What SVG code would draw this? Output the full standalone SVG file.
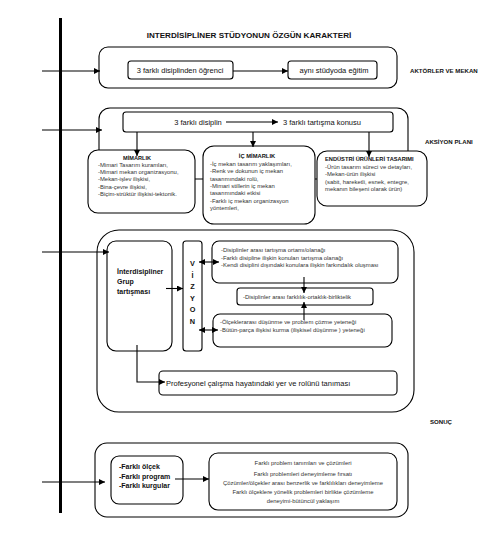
<svg xmlns="http://www.w3.org/2000/svg" width="500" height="541" viewBox="0 0 500 541">
<defs>
<marker id="ah" markerUnits="userSpaceOnUse" markerWidth="6" markerHeight="6" viewBox="0 0 6 6" refX="6" refY="3" orient="auto-start-reverse">
<path d="M0,0 L6,3 L0,6 Z" fill="#000"/>
</marker>
</defs>
<style>
.box{fill:#fff;stroke:#000;stroke-width:1.1}
.obox{fill:none;stroke:#000;stroke-width:1.1}
.ln{fill:none;stroke:#000;stroke-width:1.1}
.t{font-family:"Liberation Sans",Arial,sans-serif;fill:#111}
.b{font-weight:bold}
.s{font-size:5.9px;fill:#333}
.m{font-size:7.5px}
.h{font-size:6.1px;font-weight:bold}
.c{text-anchor:middle}
</style>
<rect width="500" height="541" fill="#fff"/>
<line x1="60.5" y1="18" x2="60.5" y2="513" stroke="#000" stroke-width="3"/>
<text class="t b c" x="249" y="38" font-size="8.1">INTERDİSİPLİNER STÜDYONUN ÖZGÜN KARAKTERİ</text>

<g id="section1">
<rect class="obox" x="99" y="47" width="298" height="41" rx="9"/>
<text class="t h" x="410" y="73">AKTÖRLER VE MEKAN</text>
</g>
<g id="n-ogrenci">
<rect class="box" x="128" y="61" width="105" height="18" rx="3"/>
<text class="t m c" x="180" y="73">3 farklı disiplinden öğrenci</text>
</g>
<g id="n-studyo">
<rect class="box" x="288" y="61" width="89" height="18" rx="3"/>
<text class="t m c" x="334" y="73">aynı stüdyoda eğitim</text>
</g>

<g id="section2">
<rect class="obox" x="99" y="108" width="309" height="71" rx="11"/>
<text class="t h" x="425" y="144" font-size="5.9">AKSİYON PLANI</text>
</g>
<g id="n-disiplin">
<rect class="box" x="123" y="112" width="270" height="20" rx="3"/>
<text class="t m c" x="198" y="124.5">3 farklı disiplin</text>
<text class="t m c" x="322" y="124.5">3 farklı tartışma konusu</text>
</g>
<g id="n-mimarlik">
<rect class="box" x="88" y="150" width="107" height="63" rx="10"/>
<text class="t b c" x="137" y="160" font-size="5.6">MİMARLIK</text>
<text class="t s" x="98" y="167">-Mimari Tasarım kuramları,</text>
<text class="t s" x="98" y="174.2">-Mimari mekan  organizasyonu,</text>
<text class="t s" x="98" y="181.4"> -Mekan-işlev ilişkisi,</text>
<text class="t s" x="98" y="188.6">-Bina-çevre ilişkisi,</text>
<text class="t s" x="98" y="195.8">-Biçim-strüktür ilişkisi-tektonik.</text>
</g>
<g id="n-icmimarlik">
<rect class="box" x="203" y="146" width="112" height="78" rx="11"/>
<text class="t b c" x="257" y="158" font-size="5.8">İÇ MİMARLIK</text>
<text class="t s" x="210" y="166">-İç mekan tasarım yaklaşımları,</text>
<text class="t s" x="210" y="173.3">-Renk ve dokunun iç mekan</text>
<text class="t s" x="210" y="180.6">tasarımındaki rolü,</text>
<text class="t s" x="210" y="187.9">-Mimari stillerin iç mekan</text>
<text class="t s" x="210" y="195.2">tasarımındaki etkisi</text>
<text class="t s" x="210" y="202.5">-Farklı iç mekan organizasyon</text>
<text class="t s" x="210" y="209.8">yöntemleri,</text>
</g>
<g id="n-endustri">
<rect class="box" x="317" y="151" width="110" height="55" rx="10"/>
<text class="t b" x="325" y="160.5" font-size="5.7">ENDÜSTRİ ÜRÜNLERİ TASARIMI</text>
<text class="t s" x="325" y="169">-Ürün tasarım süreci ve detayları,</text>
<text class="t s" x="325" y="176.3">-Mekan-ürün ilişkisi</text>
<text class="t s" x="325" y="183.6">(sabit, hareketli, esnek, entegre,</text>
<text class="t s" x="325" y="190.9">mekanın bileşeni olarak ürün)</text>
</g>

<g id="section3">
<rect class="obox" x="97" y="230" width="317" height="182" rx="22"/>
<text class="t h" x="430" y="424" font-size="6.5">SONUÇ</text>
</g>
<g id="n-grup">
<rect class="box" x="107" y="241" width="65" height="110" rx="9"/>
<text class="t b" x="117" y="274" font-size="7">İnterdisipliner</text>
<text class="t b" x="117" y="284" font-size="7">Grup</text>
<text class="t b" x="117" y="294" font-size="7">tartışması</text>
</g>
<g id="n-vizyon">
<rect class="box" x="183" y="241" width="19" height="110" rx="3"/>
<g class="t b c" font-size="7.3">
<text x="192.5" y="266">V</text>
<text x="192.5" y="277.5">İ</text>
<text x="192.5" y="289">Z</text>
<text x="192.5" y="300.5">Y</text>
<text x="192.5" y="312">O</text>
<text x="192.5" y="323.5">N</text>
</g>
</g>
<g id="n-ortam">
<rect class="box" x="212" y="241" width="186" height="42" rx="7"/>
<text class="t s" x="221" y="252">-Disiplinler arası tartışma ortamı/olanağı</text>
<text class="t s" x="221" y="259.5">-Farklı disipline ilişkin konuları tartışma olanağı</text>
<text class="t s" x="221" y="267">-Kendi disiplini dışındaki konulara ilişkin farkındalık oluşması</text>
</g>
<g id="n-farklilik">
<rect class="box" x="237" y="288" width="136" height="17" rx="3"/>
<text class="t s" x="243" y="298.5" font-size="6.1">-Disiplinler arası farklılık-ortaklık-birliktelik</text>
</g>
<g id="n-olcek">
<rect class="box" x="213" y="314" width="179" height="33" rx="7"/>
<text class="t s" x="220" y="323.5">-Ölçeklerarası düşünme ve problem çözme yeteneği</text>
<text class="t s" x="220" y="331.5">-Bütün-parça ilişkisi kurma (ilişkisel düşünme ) yeteneği</text>
</g>
<g id="n-profesyonel">
<rect class="box" x="159" y="371" width="238" height="24" rx="4"/>
<text class="t" x="166" y="385.5" font-size="7.5">Profesyonel çalışma hayatındaki yer ve rolünü tanıması</text>
</g>

<g id="section4">
<rect class="obox" x="95" y="443" width="313" height="74" rx="12"/>
</g>
<g id="n-farkli">
<rect class="box" x="111" y="456" width="72" height="48" rx="8"/>
<text class="t b" x="119" y="469" font-size="7">-Farklı ölçek</text>
<text class="t b" x="119" y="478.5" font-size="7">-Farklı program</text>
<text class="t b" x="119" y="488" font-size="7">-Farklı kurgular</text>
</g>
<g id="n-problem">
<rect class="box" x="209" y="453" width="188" height="57" rx="9"/>
<g class="t s c" font-size="6">
<text x="303" y="465">Farklı problem tanımları ve çözümleri</text>
<text x="303" y="476">Farklı problemleri deneyimleme fırsatı</text>
<text x="303" y="485">Çözümler/ölçekler arası benzerlik ve farklılıkları deneyimleme</text>
<text x="303" y="494">Farklı ölçeklere yönelik problemleri birlikte çözümleme</text>
<text x="303" y="503">deneyimi-bütüncül yaklaşım</text>
</g>
</g>

<g id="connectors">
<line class="ln" x1="42" y1="71" x2="100" y2="71" marker-end="url(#ah)"/>
<line class="ln" x1="233" y1="71" x2="288" y2="71" marker-end="url(#ah)"/>
<line class="ln" x1="42" y1="130" x2="102" y2="130" marker-end="url(#ah)"/>
<line class="ln" x1="226" y1="122" x2="278" y2="122" marker-end="url(#ah)"/>
<line class="ln" x1="137" y1="132" x2="137" y2="156" marker-end="url(#ah)"/>
<line class="ln" x1="253" y1="132" x2="253" y2="147" marker-end="url(#ah)"/>
<line class="ln" x1="369" y1="132" x2="369" y2="157" marker-end="url(#ah)"/>
<line class="ln" x1="42" y1="252" x2="109" y2="252" marker-end="url(#ah)"/>
<line class="ln" x1="166" y1="288.5" x2="183" y2="288.5" marker-end="url(#ah)"/>
<line class="ln" x1="199" y1="262" x2="219" y2="262" marker-start="url(#ah)" marker-end="url(#ah)"/>
<line class="ln" x1="199" y1="330" x2="218" y2="330" marker-start="url(#ah)" marker-end="url(#ah)"/>
<line class="ln" x1="304" y1="277" x2="304" y2="293" marker-end="url(#ah)"/>
<line class="ln" x1="304" y1="320" x2="304" y2="302" marker-end="url(#ah)"/>
<polyline class="ln" points="137,345 137,382 165,382" marker-end="url(#ah)"/>
<line class="ln" x1="42" y1="482" x2="105" y2="482" marker-end="url(#ah)"/>
<line class="ln" x1="175" y1="479" x2="209" y2="479" marker-end="url(#ah)"/>
</g>
</svg>
